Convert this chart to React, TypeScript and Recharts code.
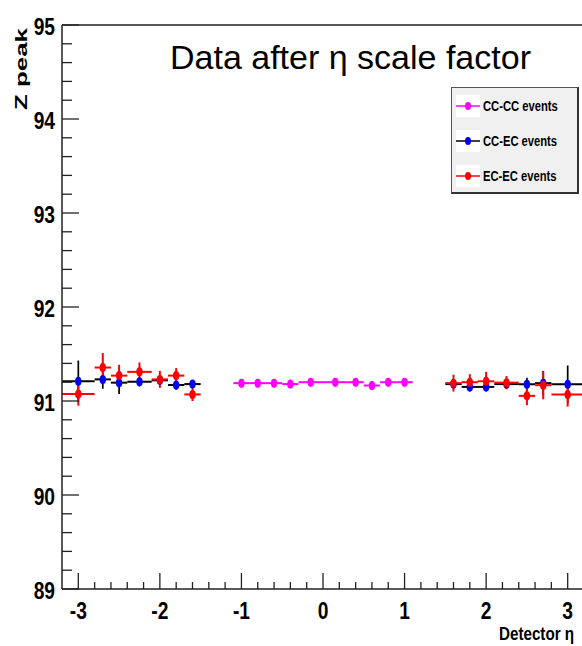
import React from 'react';
import {
  ScatterChart,
  Scatter,
  XAxis,
  YAxis,
  ErrorBar,
  ReferenceLine,
  Legend,
} from 'recharts';

// bin centres in detector eta
const ccccEta = [-1.0, -0.8, -0.6, -0.4, -0.15, 0.15, 0.4, 0.6, 0.8, 1.0];
const ccccEtaErr = [0.1, 0.1, 0.1, 0.1, 0.15, 0.15, 0.1, 0.1, 0.1, 0.1];
const ccccPeak = [91.19, 91.19, 91.19, 91.18, 91.2, 91.2, 91.2, 91.165, 91.2, 91.2];
const ccccPeakErr = [0.045, 0.045, 0.045, 0.045, 0.045, 0.045, 0.045, 0.045, 0.045, 0.045];

const ecEta = [-3.0, -2.7, -2.5, -2.25, -2.0, -1.8, -1.6, 1.6, 1.8, 2.0, 2.25, 2.5, 2.7, 3.0];
const ecEtaErr = [0.2, 0.1, 0.1, 0.15, 0.1, 0.1, 0.1, 0.1, 0.1, 0.1, 0.15, 0.1, 0.1, 0.2];

const ccecPeak = [91.21, 91.23, 91.195, 91.205, 91.22, 91.17, 91.18, 91.18, 91.15, 91.15, 91.18, 91.178, 91.19, 91.178];
const ccecPeakErr = [0.22, 0.1, 0.12, 0.05, 0.05, 0.05, 0.04, 0.04, 0.05, 0.05, 0.05, 0.07, 0.13, 0.2];

const ececPeak = [91.075, 91.356, 91.27, 91.31, 91.23, 91.27, 91.07, 91.19, 91.2, 91.21, 91.195, 91.055, 91.168, 91.07];
const ececPeakErr = [0.125, 0.155, 0.115, 0.1, 0.09, 0.08, 0.07, 0.09, 0.085, 0.1, 0.07, 0.1, 0.15, 0.13];

const legendItems = [
  { name: 'CC-CC events', line: '#ff00ff', dot: '#ff00ff' },
  { name: 'CC-EC events', line: '#000000', dot: '#0000ff' },
  { name: 'EC-EC events', line: '#ff0000', dot: '#ff0000' },
];

const xTicks: number[] = [];
for (let k = -15; k <= 15; k++) xTicks.push(Math.round(k * 2) / 10);
const yTicks: number[] = [];
for (let k = 0; k <= 30; k++) yTicks.push(Math.round(890 + k * 2) / 10);

const toPoints = (xs: number[], xe: number[], ys: number[], ye: number[]) =>
  xs.map((x, i) => ({ x, y: ys[i], ex: xe[i], ey: ye[i] }));

const ccccData = toPoints(ccccEta, ccccEtaErr, ccccPeak, ccccPeakErr);
const ccecData = toPoints(ecEta, ecEtaErr, ccecPeak, ccecPeakErr);
const ececData = toPoints(ecEta, ecEtaErr, ececPeak, ececPeakErr);

// no narrow font installed, so squeeze Liberation Sans bold horizontally
const sans = "'Liberation Sans', Arial, sans-serif";
const squeeze = 0.8;
const axisColor = '#222';

const isMajor = (v: number) => Math.abs(v - Math.round(v)) < 1e-6;

const XTick = (props: any) => {
  const { x, y, payload } = props;
  const v = payload.value;
  const major = isMajor(v);
  return (
    <g>
      <line x1={x} x2={x} y1={y} y2={y - (major ? 16 : 7)} stroke={axisColor} strokeWidth={1.3} />
      {major && (
        <text
          transform={`translate(${x}, ${y + 30}) scale(${squeeze}, 1)`}
          textAnchor="middle"
          fontFamily={sans}
          fontWeight="bold"
          fontSize={24}
          fill="#000"
        >
          {Math.round(v)}
        </text>
      )}
    </g>
  );
};

const YTick = (props: any) => {
  const { x, y, payload } = props;
  const v = payload.value;
  const major = isMajor(v);
  return (
    <g>
      <line x1={x} x2={x + (major ? 17 : 10)} y1={y} y2={y} stroke={axisColor} strokeWidth={1.3} />
      {major && (
        <text
          transform={`translate(${x - 7}, ${y + 9.5}) scale(${squeeze}, 1)`}
          textAnchor="end"
          fontFamily={sans}
          fontWeight="bold"
          fontSize={24}
          fill="#000"
        >
          {Math.round(v)}
        </text>
      )}
    </g>
  );
};

const dot = (color: string) => (props: any) =>
  <ellipse cx={props.cx} cy={props.cy} rx={3.2} ry={4.5} fill={color} />;

const LegendBox = () => (
  <div
    style={{
      width: 125,
      height: 104,
      background: '#f0f0f0',
      border: '1px solid #555',
      borderRight: '2px solid #333',
      borderBottom: '2px solid #333',
      boxSizing: 'content-box',
    }}
  >
    {legendItems.map((it) => (
      <div key={it.name} style={{ height: 35, display: 'flex', alignItems: 'center' }}>
        <svg width={24} height={22} style={{ marginLeft: 4, background: '#fff' }}>
          <line x1={0} x2={24} y1={11} y2={11} stroke={it.line} strokeWidth={1.5} />
          <ellipse cx={12} cy={11} rx={3} ry={4} fill={it.dot} />
        </svg>
        <span
          style={{
            display: 'inline-block',
            marginLeft: 3,
            fontFamily: sans,
            fontWeight: 'bold',
            fontSize: 14,
            color: '#000',
            whiteSpace: 'nowrap',
            transform: `scaleX(${squeeze})`,
            transformOrigin: 'left center',
          }}
        >
          {it.name}
        </span>
      </div>
    ))}
  </div>
);

const App: React.FC = () => {
  return (
    <div style={{ position: 'absolute', left: 0, top: 0, width: 582, height: 646, overflow: 'hidden', background: '#fff' }}>
      <ScatterChart width={590} height={646} margin={{ top: 25, right: 6, bottom: 0, left: 0 }}>
        <XAxis
          type="number"
          dataKey="x"
          domain={[-3.2, 3.2]}
          ticks={xTicks}
          interval={0}
          allowDataOverflow
          height={57}
          tickSize={0}
          tickMargin={0}
          tickLine={false}
          axisLine={{ stroke: axisColor, strokeWidth: 1.5 }}
          tick={<XTick />}
          label={{
            value: 'Detector η',
            content: (p: any) => (
              <text
                transform={`translate(${p.viewBox.x + p.viewBox.width - 85}, ${p.viewBox.y + 51}) scale(${squeeze}, 1)`}
                fontFamily={sans}
                fontWeight="bold"
                fontSize={19}
                fill="#000"
              >
                Detector η
              </text>
            ),
          }}
        />
        <YAxis
          type="number"
          dataKey="y"
          domain={[89, 95]}
          ticks={yTicks}
          interval={0}
          allowDataOverflow
          width={62}
          tickSize={0}
          tickMargin={0}
          tickLine={false}
          axisLine={{ stroke: axisColor, strokeWidth: 1.5 }}
          tick={<YTick />}
          label={{
            value: 'Z peak',
            content: (p: any) => {
              const cx = p.viewBox.x + 21;
              const cy = p.viewBox.y + 44;
              return (
                <text
                  x={cx}
                  y={cy}
                  transform={`rotate(-90, ${cx}, ${cy})`}
                  textAnchor="middle"
                  dominantBaseline="central"
                  fontFamily={sans}
                  fontWeight="bold"
                  fontSize={16}
                  textLength={82}
                  lengthAdjust="spacingAndGlyphs"
                  fill="#000"
                >
                  Z peak
                </text>
              );
            },
          }}
        />
        <ReferenceLine y={95} stroke={axisColor} strokeWidth={1.5} ifOverflow="visible" />
        <ReferenceLine x={3.2} stroke={axisColor} strokeWidth={1.5} ifOverflow="visible" />
        <Scatter name="CC-CC events" data={ccccData} fill="#ff00ff" shape={dot('#ff00ff')} isAnimationActive={false}>
          <ErrorBar dataKey="ex" direction="x" width={0} stroke="#ff00ff" strokeWidth={2} />
          <ErrorBar dataKey="ey" direction="y" width={0} stroke="#ff00ff" strokeWidth={2} />
        </Scatter>
        <Scatter name="CC-EC events" data={ccecData} fill="#0000ff" shape={dot('#0000ff')} isAnimationActive={false}>
          <ErrorBar dataKey="ex" direction="x" width={0} stroke="#000" strokeWidth={2} />
          <ErrorBar dataKey="ey" direction="y" width={0} stroke="#000" strokeWidth={1.7} />
        </Scatter>
        <Scatter name="EC-EC events" data={ececData} fill="#ff0000" shape={dot('#ff0000')} isAnimationActive={false}>
          <ErrorBar dataKey="ex" direction="x" width={0} stroke="#ff0000" strokeWidth={2} />
          <ErrorBar dataKey="ey" direction="y" width={0} stroke="#ff0000" strokeWidth={2} />
        </Scatter>
        <Legend
          layout="horizontal"
          align="center"
          verticalAlign="middle"
          content={<LegendBox />}
          wrapperStyle={{ left: 451, top: 87, width: 128, height: 107 }}
        />
      </ScatterChart>
      <div
        style={{
          position: 'absolute',
          left: 170,
          top: 37,
          fontFamily: sans,
          fontSize: 34,
          lineHeight: '40px',
          color: '#000',
          whiteSpace: 'nowrap',
        }}
      >
        Data after η scale factor
      </div>
    </div>
  );
};

export default App;
